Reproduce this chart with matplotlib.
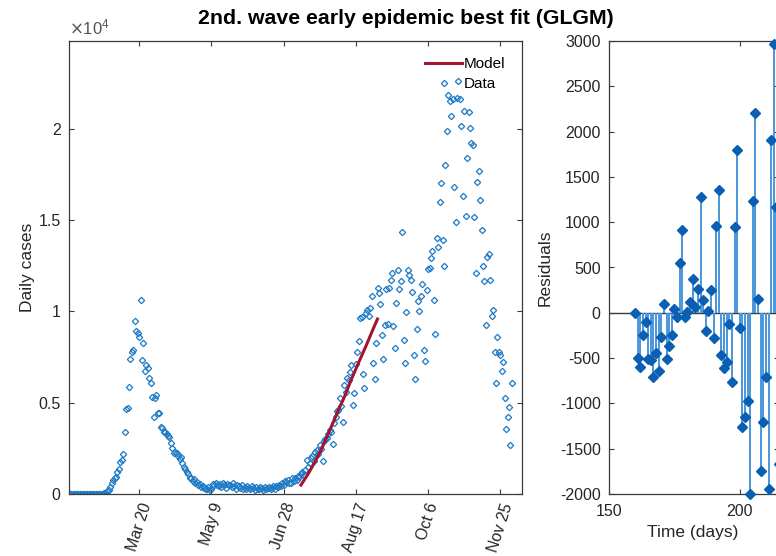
import matplotlib
matplotlib.use('Agg')
import matplotlib.pyplot as plt
from matplotlib.ticker import FuncFormatter
from matplotlib.transforms import ScaledTranslation

plt.rcParams['font.family'] = ['Liberation Sans', 'DejaVu Sans']
plt.rcParams['axes.unicode_minus'] = False

# daily cases, one value per day counted from 1 Feb 2020
cases = [
    0, 0, 0, 0, 0, 0, 0, 0, 0, 0,
    0, 0, 0, 0, 0, 0, 0, 0, 0, 0,
    3, 5, 10, 20, 30, 60, 150, 220, 400, 600,
    750, 880, 950, 1200, 1350, 1770, 1860, 2190, 3380, 4650,
    4720, 5880, 7400, 7800, 7900, 9450, 8900, 8800, 8600, 10640,
    7350, 8260, 6760, 7070, 6890, 6340, 6070, 5300, 4200, 5250,
    5430, 4420, 4450, 3690, 3600, 3420, 3380, 3290, 3200, 3100,
    2780, 2500, 2270, 2300, 2270, 2100, 1900, 2000, 1700, 1500,
    1350, 1200, 1100, 900, 850, 700, 800, 600, 650, 500,
    550, 400, 450, 350, 300, 250, 400, 200, 300, 550,
    480, 600, 520, 450, 560, 400, 580, 500, 350, 560,
    470, 520, 380, 600, 450, 300, 500, 420, 350, 480,
    300, 400, 250, 450, 350, 280, 420, 320, 200, 380,
    300, 250, 400, 350, 220, 380, 300, 330, 400, 250,
    350, 420, 300, 450, 380, 500, 450, 600, 520, 700,
    650, 750, 600, 590, 850, 700, 900, 770, 1000, 950,
    1100, 1200, 1050, 1320, 1860, 1500, 1700, 1960, 2100, 1800,
    2320, 2400, 2200, 2700, 2450, 1830, 2900, 3000, 3050, 3300,
    3510, 3400, 2740, 3900, 4200, 4530, 4600, 5250, 4800, 3960,
    5980, 5600, 6340, 6250, 6700, 7050, 4880, 5520, 7100, 7800,
    8350, 9630, 9690, 6550, 5800, 9900, 10090, 9730, 10200, 10820,
    7150, 6300, 8280, 11280, 11000, 10400, 8720, 7400, 9270, 11230,
    9320, 11280, 11730, 12100, 9170, 7990, 10450, 12280, 11200, 11640,
    14350, 8440, 7170, 9940, 12280, 12000, 11730, 11040, 7620, 6300,
    9030, 10540, 10030, 10820, 11500, 7900, 7300, 11180, 12300, 12370,
    12900, 13290, 10640, 8770, 14020, 13500, 15970, 17000, 13930, 12500,
    18000, 19860, 21870, 21500, 20720, 21600, 16810, 14900, 21700, 22600,
    21650, 20140, 16340, 20980, 15240, 18400, 20900, 20050, 19230, 19080,
    15170, 12100, 17070, 17670, 16080, 14470, 12500, 11640, 9230, 12960,
    13160, 11690, 9760, 10050, 7790, 6100, 8620, 7800, 7620, 6760,
    7240, 5250, 3560, 4240, 4750, 2690, 6100,
]
days = list(range(len(cases)))

# GLGM fit over the early second-wave window
model_days = [160, 165, 170, 174, 180, 186, 190, 195, 200, 205, 210, 213]
model_cases = [490, 1100, 1800, 2410, 3500, 4600, 5300, 6290, 7210, 8100, 9040, 9580]

# residuals of the fit
res_days = list(range(160, 216))
residuals = [
    0, -500, -600, -250, -100, -510, -520, -706, -445, -637,
    -262, 100, -505, -364, -250, 37, -45, 552, 916, -45,
    5, 114, 372, 59, 265, 1277, 136, -200, 22, 250,
    -280, 957, 1358, -464, -611, -541, -129, -769, 946, 1800,
    -166, -1266, -1155, -971, -1998, 1236, 2204, 147, -1751, -1203,
    -706, -1946, 1910, 2962, 1166, -1667,
]

date_ticks = [48, 98, 148, 198, 248, 298]
date_labels = ['Mar 20', 'May 9', 'Jun 28', 'Aug 17', 'Oct 6', 'Nov 25']

W, H = 776, 556
axis_col = '#3a3a3a'
text_col = '#262626'

fig = plt.figure(figsize=(W / 100, H / 100), dpi=100)

# left panel: data and model
ax1 = fig.add_axes([69 / W, 62 / H, 453 / W, 453 / H])
data_line, = ax1.plot(days, cases, linestyle='none', marker='D', markersize=3.2,
                      markerfacecolor='none', markeredgecolor='#1f7ac6',
                      markeredgewidth=0.9, label='Data')
model_line, = ax1.plot(model_days, model_cases, color='#A2142F', lw=2.2, label='Model')
ax1.set_xlim(-0.5, 313)
ax1.set_ylim(0, 24800)
ax1.set_xticks(date_ticks)
ax1.set_xticklabels(date_labels, rotation=72, ha='center', va='top')
shift = ScaledTranslation(8 / 100, 0, fig.dpi_scale_trans)
for lab in ax1.get_xticklabels():
    lab.set_transform(lab.get_transform() + shift)
ax1.set_yticks([0, 5000, 10000, 15000, 20000])
ax1.yaxis.set_major_formatter(FuncFormatter(lambda v, p: '%g' % (v / 1e4)))
ax1.set_ylabel('Daily cases', fontsize=12.5, color=text_col)
ax1.yaxis.set_label_coords(-0.075, 0.5)
ax1.legend(handles=[model_line, data_line], loc='upper right', frameon=False,
           bbox_to_anchor=(0.964, 0.964), borderaxespad=0, borderpad=0,
           handlelength=2.4, handletextpad=0.15, labelspacing=0.4, fontsize=11)

# right panel: residuals
ax2 = fig.add_axes([609 / W, 62 / H, 170 / W, 453 / H])
ax2.axhline(0, color=axis_col, lw=1, zorder=1)
ml, sl, bl = ax2.stem(res_days, residuals, basefmt=' ')
plt.setp(sl, color='#4a97dc', linewidth=1.4)
plt.setp(ml, marker='D', markersize=5, color='#0b5fb3', clip_on=False, zorder=3)
ax2.set_xlim(150, 215)
ax2.set_ylim(-2000, 3000)
ax2.set_xticks([150, 200])
ax2.set_yticks(list(range(-2000, 3001, 500)))
ax2.set_xlabel('Time (days)', fontsize=12.5, color=text_col)
ax2.xaxis.set_label_coords(0.494, -0.068)
ax2.set_ylabel('Residuals', fontsize=12.5, color=text_col)
ax2.yaxis.set_label_coords(-0.33, 0.5)

for ax in (ax1, ax2):
    for sp in ax.spines.values():
        sp.set_color(axis_col)
        sp.set_linewidth(0.9)
    ax.tick_params(direction='in', top=True, right=True, length=3.5, width=0.8,
                   colors=axis_col, labelcolor=text_col, labelsize=11.5)
ax1.tick_params(axis='x', pad=5)
ax1.tick_params(axis='y', pad=6)
ax2.tick_params(axis='x', pad=7)
ax2.tick_params(axis='y', pad=6)

fig.text(0.523, 1 - 19 / H, '2nd. wave early epidemic best fit (GLGM)',
         ha='center', va='center', fontsize=15.3, fontweight='bold', color='black')
fig.text(69 / W, 1 - 34 / H, r'$\times\mathregular{10^{4}}$', fontsize=12,
         color='#555555', ha='left', va='baseline')

fig.savefig('out.png', dpi=100)
